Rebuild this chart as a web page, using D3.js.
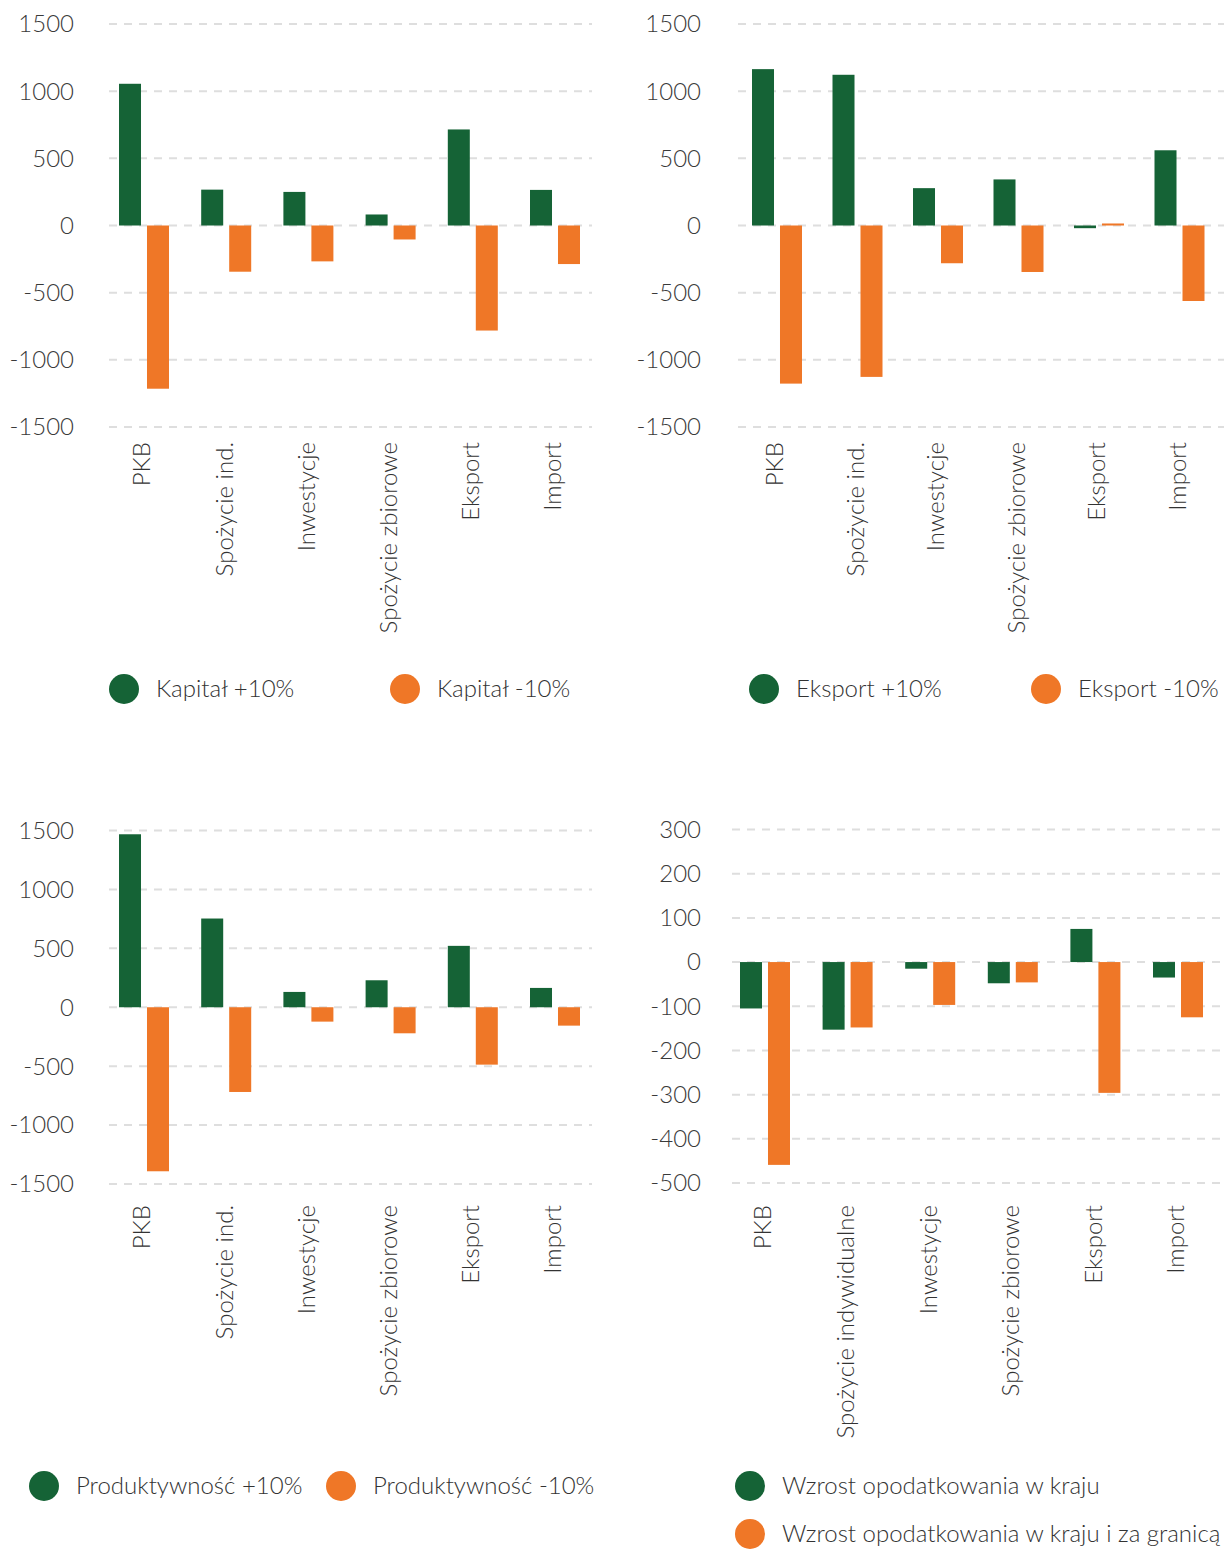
<!DOCTYPE html>
<html>
<head>
<meta charset="utf-8">
<script src="https://cdn.jsdelivr.net/npm/d3@7"></script>
<style>
  html, body { margin: 0; padding: 0; background: #fff; }
  svg text { font-family: Lato, "Open Sans", sans-serif; font-weight: 300; }
</style>
</head>
<body>
<div id="chart"></div>
<script>
// categories
const catsShort = ['PKB', 'Spożycie ind.', 'Inwestycje', 'Spożycie zbiorowe', 'Eksport', 'Import'];
const catsLong = ['PKB', 'Spożycie indywidualne', 'Inwestycje', 'Spożycie zbiorowe', 'Eksport', 'Import'];

// tick labels
const ticksBig = [1500, 1000, 500, 0, -500, -1000, -1500];
const ticksSmall = [300, 200, 100, 0, -100, -200, -300, -400, -500];

// series values
const kapitalPlus = [1055, 267, 250, 82, 715, 265];
const kapitalMinus = [-1215, -344, -267, -104, -782, -287];
const eksportPlus = [1164, 1122, 278, 343, -20, 560];
const eksportMinus = [-1177, -1127, -281, -346, 15, -562];
const produktPlus = [1468, 753, 130, 229, 521, 164];
const produktMinus = [-1392, -719, -122, -221, -487, -156];
const podatekKraj = [-105, -153, -15, -48, 75, -35];
const podatekKrajGranica = [-459, -148, -97, -46, -296, -125];

// legend names
const namesKapital = ['Kapitał +10%', 'Kapitał -10%'];
const namesEksport = ['Eksport +10%', 'Eksport -10%'];
const namesProdukt = ['Produktywność +10%', 'Produktywność -10%'];
const namesPodatek = ['Wzrost opodatkowania w kraju', 'Wzrost opodatkowania w kraju i za granicą'];

const colors = ['#156336', '#ef7727'];

const width = 1224;
const height = 1549;

const svg = d3.select('#chart').append('svg')
  .attr('width', width)
  .attr('height', height)
  .attr('viewBox', `0 0 ${width} ${height}`);

const panels = [
  {
    cats: catsShort, series: [kapitalPlus, kapitalMinus], names: namesKapital, ticks: ticksBig,
    yTop: 24, yBot: 427, labelX: 74, gridX0: 109, gridX1: 592,
    band0: 107, step: 82.2, catY: 442,
    legend: [[124, 689], [405, 689]]
  },
  {
    cats: catsShort, series: [eksportPlus, eksportMinus], names: namesEksport, ticks: ticksBig,
    yTop: 24, yBot: 427, labelX: 701, gridX0: 738, gridX1: 1224,
    band0: 740, step: 80.5, catY: 442,
    legend: [[764, 689], [1046, 689]]
  },
  {
    cats: catsShort, series: [produktPlus, produktMinus], names: namesProdukt, ticks: ticksBig,
    yTop: 830.5, yBot: 1184, labelX: 74, gridX0: 109, gridX1: 592,
    band0: 107, step: 82.2, catY: 1205,
    legend: [[44, 1486], [341, 1486]]
  },
  {
    cats: catsLong, series: [podatekKraj, podatekKrajGranica], names: namesPodatek, ticks: ticksSmall,
    yTop: 829.5, yBot: 1183, labelX: 701, gridX0: 732, gridX1: 1224,
    band0: 728, step: 82.6, catY: 1205,
    legend: [[750, 1486], [750, 1534]]
  }
];

panels.forEach(p => drawPanel(p));

function drawPanel(p) {
  const g = svg.append('g');

  const y = d3.scaleLinear()
    .domain([d3.min(p.ticks), d3.max(p.ticks)])
    .range([p.yBot, p.yTop]);

  const x0 = d3.scaleBand()
    .domain(p.cats)
    .range([p.band0, p.band0 + p.step * p.cats.length])
    .paddingInner(0)
    .paddingOuter(0);

  const x1 = d3.scaleBand()
    .domain([0, 1])
    .range([12, 62])
    .paddingInner(0.214);

  // gridlines
  g.append('g')
    .selectAll('line')
    .data(p.ticks)
    .enter().append('line')
    .attr('x1', p.gridX0)
    .attr('x2', p.gridX1)
    .attr('y1', d => y(d))
    .attr('y2', d => y(d))
    .attr('stroke', '#dedede')
    .attr('stroke-width', 2)
    .attr('stroke-dasharray', '8,7');

  // y tick labels
  g.append('g')
    .selectAll('text')
    .data(p.ticks)
    .enter().append('text')
    .attr('x', p.labelX)
    .attr('y', d => y(d))
    .attr('dy', '0.35em')
    .attr('text-anchor', 'end')
    .attr('fill', '#3a3a3a')
    .style('font-size', '24px')
    .text(d => String(d));

  // bars
  const groups = g.append('g')
    .selectAll('g')
    .data(p.cats)
    .enter().append('g')
    .attr('transform', d => `translate(${x0(d)},0)`);

  groups.selectAll('rect')
    .data((d, i) => p.series.map((s, k) => ({ k: k, v: s[i] })))
    .enter().append('rect')
    .attr('x', d => x1(d.k))
    .attr('width', x1.bandwidth())
    .attr('y', d => y(Math.max(0, d.v)))
    .attr('height', d => Math.abs(y(d.v) - y(0)))
    .attr('fill', d => colors[d.k]);

  // category labels
  g.append('g')
    .selectAll('text')
    .data(p.cats)
    .enter().append('text')
    .attr('transform', d => `translate(${x0(d) + 37 - 2},${p.catY}) rotate(-90)`)
    .attr('dy', '0.35em')
    .attr('text-anchor', 'end')
    .attr('fill', '#333')
    .style('font-size', '24px')
    .text(d => d);

  // legend
  const leg = g.append('g')
    .selectAll('g')
    .data(p.names)
    .enter().append('g')
    .attr('transform', (d, i) => `translate(${p.legend[i][0]},${p.legend[i][1]})`);

  leg.append('circle')
    .attr('r', 15)
    .attr('fill', (d, i) => colors[i]);

  leg.append('text')
    .attr('x', 32)
    .attr('dy', '0.35em')
    .attr('fill', '#333')
    .style('font-size', '24px')
    .text(d => d);
}
</script>
</body>
</html>
